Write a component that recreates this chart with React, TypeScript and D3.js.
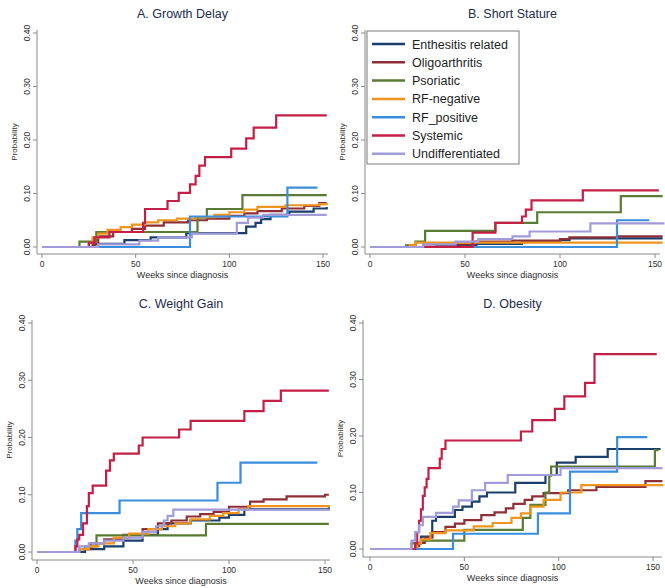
import * as d3 from 'd3'

const W = 665
const H = 588

const groups = [
  'Enthesitis related',
  'Oligoarthritis',
  'Psoriatic',
  'RF-negative',
  'RF_positive',
  'Systemic',
  'Undifferentiated',
]
const groupColors = ['#1b3e6b', '#8e2f38', '#5a7b33', '#ef951f', '#3a8edc', '#c41f47', '#a19bd9']

const xTicks = [0, 50, 100, 150]
const yTicks = [0, 0.1, 0.2, 0.3, 0.4]

type Pt = [number, number]

// cumulative incidence, [week, probability], step after; last point = end of follow-up
const growthDelay: Pt[][] = [
  [[0, 0], [28, 0.006], [44, 0.013], [58, 0.018], [77, 0.026], [109, 0.038], [114, 0.045], [117, 0.052], [122, 0.06], [132, 0.066], [145, 0.072], [152, 0.075]],
  [[0, 0], [27, 0.005], [30, 0.02], [38, 0.028], [48, 0.034], [55, 0.04], [65, 0.046], [78, 0.05], [88, 0.053], [100, 0.058], [108, 0.063], [115, 0.067], [128, 0.072], [140, 0.077], [148, 0.082], [152, 0.082]],
  [[0, 0], [20, 0.01], [29, 0.028], [83, 0.055], [88, 0.071], [107, 0.097], [152, 0.097]],
  [[0, 0], [25, 0.008], [27, 0.018], [30, 0.025], [35, 0.032], [42, 0.037], [48, 0.042], [55, 0.046], [62, 0.05], [72, 0.053], [82, 0.056], [92, 0.06], [100, 0.065], [108, 0.07], [115, 0.075], [130, 0.078], [148, 0.08], [152, 0.082]],
  [[0, 0], [79, 0.057], [131, 0.111], [147, 0.111]],
  [[0, 0], [25, 0.008], [28, 0.018], [36, 0.028], [54, 0.045], [55, 0.071], [67, 0.086], [73, 0.101], [79, 0.117], [82, 0.133], [84, 0.152], [87, 0.168], [101, 0.184], [109, 0.203], [113, 0.223], [125, 0.246], [152, 0.246]],
  [[0, 0], [30, 0.005], [52, 0.012], [62, 0.018], [80, 0.025], [104, 0.045], [110, 0.055], [118, 0.06], [152, 0.06]],
]

const shortStature: Pt[][] = [
  [[0, 0], [35, 0.003], [56, 0.006], [80, 0.01], [100, 0.013], [105, 0.016], [154, 0.016]],
  [[0, 0], [28, 0.005], [55, 0.01], [75, 0.012], [100, 0.015], [105, 0.018], [130, 0.02], [154, 0.02]],
  [[0, 0], [19, 0.003], [24, 0.01], [29, 0.03], [66, 0.045], [88, 0.065], [132, 0.095], [154, 0.095]],
  [[0, 0], [21, 0.004], [24, 0.008], [154, 0.008]],
  [[0, 0], [130, 0.05], [147, 0.05]],
  [[0, 0], [54, 0.027], [66, 0.045], [80, 0.057], [82, 0.07], [85, 0.087], [112, 0.106], [152, 0.106]],
  [[0, 0], [28, 0.005], [45, 0.01], [57, 0.015], [75, 0.02], [84, 0.029], [116, 0.044], [155, 0.044]],
]

const weightGain: Pt[][] = [
  [[0, 0], [25, 0.005], [35, 0.01], [45, 0.02], [55, 0.03], [63, 0.04], [68, 0.05], [80, 0.055], [95, 0.06], [100, 0.065], [108, 0.075], [152, 0.078]],
  [[0, 0], [22, 0.005], [28, 0.015], [35, 0.022], [45, 0.03], [55, 0.04], [63, 0.05], [70, 0.055], [78, 0.062], [85, 0.066], [92, 0.07], [100, 0.079], [111, 0.088], [118, 0.092], [130, 0.097], [150, 0.1], [152, 0.1]],
  [[0, 0], [22, 0.005], [25, 0.01], [31, 0.029], [88, 0.049], [152, 0.049]],
  [[0, 0], [22, 0.005], [27, 0.01], [32, 0.015], [40, 0.025], [48, 0.032], [58, 0.04], [65, 0.045], [72, 0.05], [80, 0.057], [90, 0.063], [97, 0.068], [105, 0.075], [110, 0.08], [152, 0.082]],
  [[0, 0], [20, 0.02], [21, 0.04], [23, 0.068], [43, 0.09], [94, 0.121], [106, 0.156], [146, 0.156]],
  [[0, 0], [20, 0.01], [21, 0.022], [22, 0.03], [24, 0.05], [26, 0.08], [27, 0.103], [29, 0.116], [36, 0.142], [38, 0.16], [40, 0.172], [53, 0.186], [55, 0.2], [74, 0.214], [80, 0.229], [108, 0.246], [118, 0.264], [127, 0.282], [152, 0.282]],
  [[0, 0], [22, 0.01], [27, 0.015], [35, 0.02], [45, 0.025], [55, 0.035], [62, 0.045], [66, 0.055], [68, 0.063], [71, 0.074], [152, 0.075]],
]

const obesity: Pt[][] = [
  [[0, 0], [24, 0.01], [27, 0.022], [33, 0.05], [35, 0.057], [45, 0.069], [49, 0.075], [54, 0.084], [58, 0.093], [62, 0.1], [77, 0.117], [93, 0.131], [99, 0.153], [109, 0.163], [126, 0.177], [154, 0.177]],
  [[0, 0], [24, 0.005], [26, 0.011], [29, 0.02], [33, 0.03], [40, 0.039], [45, 0.045], [50, 0.051], [59, 0.06], [66, 0.065], [72, 0.072], [76, 0.08], [82, 0.087], [86, 0.093], [92, 0.099], [105, 0.104], [120, 0.11], [146, 0.12], [155, 0.12]],
  [[0, 0], [22, 0.01], [27, 0.015], [50, 0.034], [81, 0.055], [85, 0.078], [93, 0.1], [95, 0.13], [96, 0.146], [151, 0.175], [153, 0.175]],
  [[0, 0], [25, 0.01], [27, 0.017], [32, 0.028], [40, 0.033], [55, 0.04], [65, 0.046], [75, 0.055], [80, 0.063], [85, 0.075], [92, 0.087], [101, 0.1], [112, 0.113], [155, 0.115]],
  [[0, 0], [44, 0.027], [89, 0.063], [106, 0.137], [131, 0.198], [147, 0.198]],
  [[0, 0], [24, 0.01], [25, 0.03], [26, 0.05], [27, 0.07], [28, 0.094], [29, 0.109], [30, 0.124], [31, 0.143], [37, 0.16], [38, 0.177], [40, 0.192], [80, 0.208], [86, 0.228], [98, 0.248], [103, 0.27], [114, 0.294], [119, 0.345], [152, 0.345]],
  [[0, 0], [22, 0.015], [24, 0.03], [26, 0.042], [28, 0.057], [35, 0.064], [44, 0.075], [47, 0.086], [54, 0.104], [61, 0.117], [73, 0.131], [101, 0.143], [155, 0.143]],
]

// panel frames: plot region (l,t,r,b) and where week 0/150 and prob 0/0.4 fall
const panels = [
  { title: 'A. Growth Delay', data: growthDelay, l: 37, r: 328, t: 30, b: 254, x0: 42, x1: 323, y0: 247, y1: 33, legend: false },
  { title: 'B. Short Stature', data: shortStature, l: 365, r: 660, t: 30, b: 254, x0: 370, x1: 655, y0: 247, y1: 33, legend: true },
  { title: 'C. Weight Gain', data: weightGain, l: 32, r: 330, t: 320, b: 560, x0: 37, x1: 325, y0: 552, y1: 323, legend: false },
  { title: 'D. Obesity', data: obesity, l: 363, r: 662, t: 320, b: 557, x0: 370, x1: 653, y0: 549, y1: 323, legend: false },
]

const FONT = '"Liberation Sans", Arial, Helvetica, sans-serif'
const AXIS = '#8a8a8a'
const TXT = '#2e2e2e'

function Panel({ p }: { p: (typeof panels)[number] }) {
  const x = d3.scaleLinear().domain([0, 150]).range([p.x0, p.x1])
  const y = d3.scaleLinear().domain([0, 0.4]).range([p.y0, p.y1])
  const line = d3
    .line<Pt>()
    .x((d) => x(d[0]))
    .y((d) => y(d[1]))
    .curve(d3.curveStepAfter)
  const midY = (p.t + p.b) / 2
  return (
    <g>
      <text x={(p.l + p.r) / 2} y={p.t - 12} textAnchor="middle" fontSize={12.5} fill="#1d2b4c" fontFamily={FONT}>
        {p.title}
      </text>
      <line x1={p.l} x2={p.l} y1={p.t} y2={p.b} stroke={AXIS} />
      <line x1={p.l} x2={p.r} y1={p.b} y2={p.b} stroke={AXIS} />
      {yTicks.map((v) => (
        <g key={v}>
          <line x1={p.l - 4} x2={p.l} y1={y(v)} y2={y(v)} stroke={AXIS} />
          <text
            transform={`translate(${p.l - 7},${y(v)}) rotate(-90)`}
            textAnchor="middle"
            fontSize={8.5}
            fill={TXT}
            fontFamily={FONT}
          >
            {d3.format('.2f')(v)}
          </text>
        </g>
      ))}
      {xTicks.map((v) => (
        <g key={v}>
          <line x1={x(v)} x2={x(v)} y1={p.b} y2={p.b + 4} stroke={AXIS} />
          <text x={x(v)} y={p.b + 13} textAnchor="middle" fontSize={8.5} fill={TXT} fontFamily={FONT}>
            {v}
          </text>
        </g>
      ))}
      <text x={(p.l + p.r) / 2} y={p.b + 24} textAnchor="middle" fontSize={9} fill={TXT} fontFamily={FONT}>
        Weeks since diagnosis
      </text>
      <text
        transform={`translate(${p.l - 20},${midY}) rotate(-90)`}
        textAnchor="middle"
        fontSize={8}
        fill={TXT}
        fontFamily={FONT}
      >
        Probability
      </text>
      {p.data.map((s, i) => (
        <path key={i} d={line(s) || ''} fill="none" stroke={groupColors[i]} strokeWidth={2.2} />
      ))}
      {p.legend && (
        <g>
          <rect x={p.l + 2} y={p.t + 1} width={152} height={133} fill="#fff" stroke="#7a7a7a" strokeWidth={1} />
          {groups.map((g, i) => (
            <g key={g} transform={`translate(${p.l + 7},${p.t + 14 + i * 18.3})`}>
              <line x1={0} x2={33} y1={0} y2={0} stroke={groupColors[i]} strokeWidth={2.5} />
              <text x={40} y={4.5} fontSize={12.5} fill="#1e1e1e" fontFamily={FONT}>
                {g}
              </text>
            </g>
          ))}
        </g>
      )}
    </g>
  )
}

export default function App() {
  return (
    <svg
      width={W}
      height={H}
      style={{ position: 'absolute', left: 0, top: 0, background: '#fff' }}
    >
      <rect width={W} height={H} fill="#fff" />
      {panels.map((p) => (
        <Panel key={p.title} p={p} />
      ))}
    </svg>
  )
}
